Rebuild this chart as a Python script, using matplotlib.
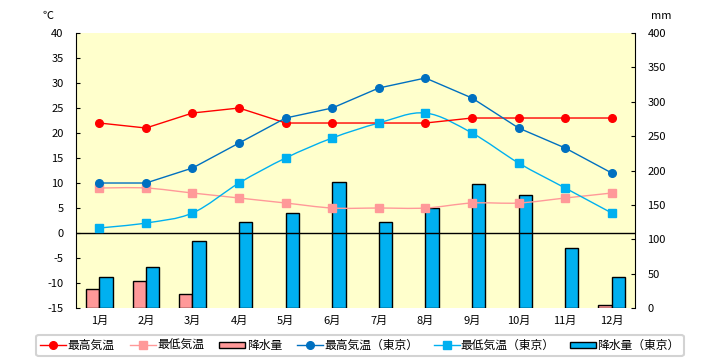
import numpy as np
import matplotlib
matplotlib.use('Agg')
import matplotlib.pyplot as plt
from matplotlib.path import Path
from matplotlib.patches import PathPatch, Patch
from matplotlib.lines import Line2D

plt.rcParams['font.family'] = ['Noto Sans CJK JP', 'DejaVu Sans']
plt.rcParams['axes.unicode_minus'] = False

# データ
months = ['1月', '2月', '3月', '4月', '5月', '6月', '7月', '8月', '9月', '10月', '11月', '12月']
t_max = [22, 21, 24, 25, 22, 22, 22, 22, 23, 23, 23, 23]
t_min = [9, 9, 8, 7, 6, 5, 5, 5, 6, 6, 7, 8]
rain = [27, 39, 20, 0, 0, 0, 0, 0, 0, 0, 0, 4]
tokyo_max = [10, 10, 13, 18, 23, 25, 29, 31, 27, 21, 17, 12]
tokyo_min = [1, 2, 4, 10, 15, 19, 22, 24, 20, 14, 9, 4]
tokyo_rain = [45, 59, 98, 125, 138, 184, 125, 146, 180, 164, 88, 45]

temp_ticks = list(range(-15, 45, 5))
rain_ticks = list(range(0, 450, 50))

RED = '#FF0000'
PINK = '#FF9999'
BLUE = '#0070C0'
SKY = '#00B0F0'


def smooth_path(xs, ys):
    # Catmull-Rom 風の滑らかな線 (Excel の「スムージング」相当)
    p = np.column_stack([xs, ys]).astype(float)
    verts = [p[0]]
    codes = [Path.MOVETO]
    n = len(p)
    for i in range(n - 1):
        p0 = p[i - 1] if i > 0 else p[i]
        p3 = p[i + 2] if i + 2 < n else p[i + 1]
        c1 = p[i] + (p[i + 1] - p0) / 6
        c2 = p[i + 1] - (p3 - p[i]) / 6
        verts += [c1, c2, p[i + 1]]
        codes += [Path.CURVE4] * 3
    return Path(verts, codes)


fig = plt.figure(figsize=(7.2, 3.6), dpi=100)
ax = fig.add_axes([0.1056, 0.1444, 0.7764, 0.7639])
ax2 = ax.twinx()
ax.set_zorder(2)
ax.patch.set_visible(False)
ax2.patch.set_visible(True)
ax2.patch.set_facecolor('#FFFFCC')

x = np.arange(12) + 0.5
w = 0.285

# 降水量 (右軸)  0 mm の月は棒を描かない
r = np.array(rain, dtype=float)
has = r > 0
ax2.bar(x[has] - w / 2, r[has], w, color=PINK, edgecolor='black', linewidth=1)
ax2.bar(x + w / 2, tokyo_rain, w, color=SKY, edgecolor='black', linewidth=1)
ax2.set_ylim(0, 400)
ax2.set_yticks(rain_ticks)

# 気温 (左軸)
ax.axhline(0, color='black', linewidth=1)
ax.plot(x, t_max, color=RED, lw=1, marker='o', ms=5.5)
ax.add_patch(PathPatch(smooth_path(x, t_min), fill=False, edgecolor=PINK, lw=1))
ax.plot(x, t_min, ls='none', color=PINK, marker='s', ms=5.5)
ax.plot(x, tokyo_max, color=BLUE, lw=1, marker='o', ms=5.5)
ax.add_patch(PathPatch(smooth_path(x, tokyo_min), fill=False, edgecolor=SKY, lw=1))
ax.plot(x, tokyo_min, ls='none', color=SKY, marker='s', ms=6)
ax.set_ylim(-15, 40)
ax.set_xlim(0, 12)
ax.set_yticks(temp_ticks)
ax.set_yticklabels([str(v) for v in temp_ticks])
ax.set_xticks(x)
ax.set_xticklabels(months)

for a in (ax, ax2):
    a.spines['top'].set_visible(False)
    a.spines['bottom'].set_visible(False)
    a.tick_params(axis='y', direction='in', length=3, labelsize=8, pad=9)
    a.tick_params(axis='x', length=0, labelsize=8, pad=6)
ax.spines['right'].set_visible(False)
ax2.spines['left'].set_visible(False)

fig.text(0.067, 0.955, '℃', fontsize=8, ha='center', va='center')
fig.text(0.918, 0.955, 'mm', fontsize=8, ha='center', va='center')

handles = [
    Line2D([], [], color=RED, lw=1, marker='o', ms=5.5),
    Line2D([], [], color=PINK, lw=1, marker='s', ms=5.5),
    Patch(facecolor=PINK, edgecolor='black'),
    Line2D([], [], color=BLUE, lw=1, marker='o', ms=5.5),
    Line2D([], [], color=SKY, lw=1, marker='s', ms=5.5),
    Patch(facecolor=SKY, edgecolor='black'),
]
labels = ['最高気温', '最低気温', '降水量', '最高気温（東京）', '最低気温（東京）', '降水量（東京）']
leg = fig.legend(handles, labels, loc='center', bbox_to_anchor=(0.5, 0.04), ncol=6,
                 fontsize=8.5, handlelength=2.2, handleheight=0.45, handletextpad=0.1,
                 columnspacing=1.3, borderpad=0.35, frameon=True, fancybox=True)
leg.get_frame().set_edgecolor('#C8C8C8')
leg.get_frame().set_linewidth(1.5)

fig.savefig('out.png', dpi=100)
